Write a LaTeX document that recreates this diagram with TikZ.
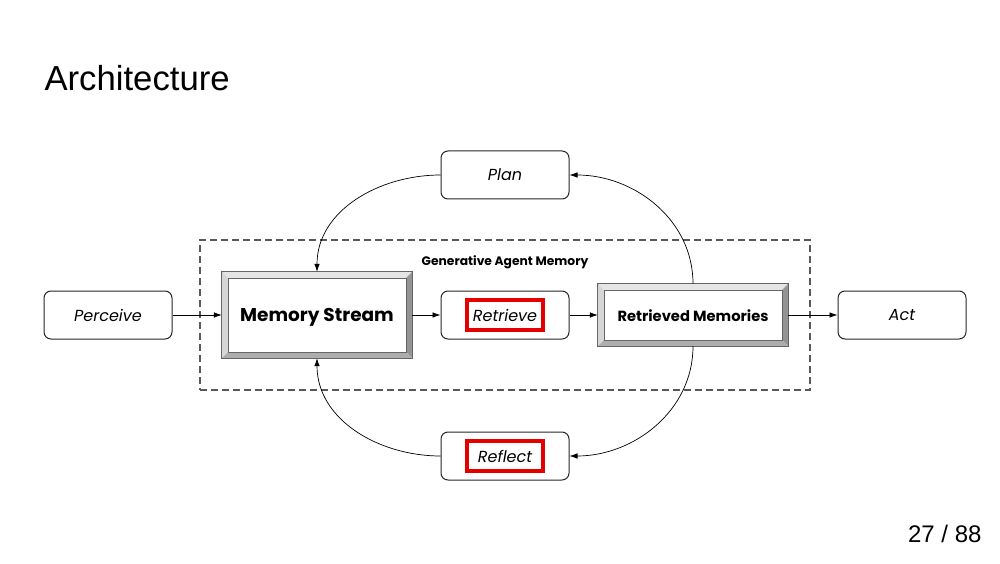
\documentclass[tikz,border=0pt]{standalone}
\usepackage{fontspec}
\setmainfont{Liberation Sans}
\newfontfamily\diagfont{Poppins}
\usepackage{xcolor}
\usetikzlibrary{arrows.meta}

\begin{document}
\begin{tikzpicture}[x=1pt,y=1pt]
  \tikzset{font={\diagfont\fontsize{16pt}{19pt}\selectfont},
    stepbox/.style={draw=black!85,line width=1pt,rounded corners=7pt,minimum width=128pt,
      minimum height=48pt,inner sep=0pt,font={\diagfont\itshape\fontsize{16pt}{19pt}\selectfont}},
    bevelbox/.style={draw=black!60,fill=white,inner sep=0pt},
    hilite/.style={draw=red!90!black,line width=3.2pt,minimum width=76pt,
      minimum height=30pt,inner sep=0pt},
    link/.style={-{Latex[length=8pt,width=5.5pt]},line width=0.7pt}}
  \useasboundingbox (0,0) rectangle (1000,563);
  \node[anchor=base west,font={\rmfamily\fontsize{34.7pt}{40pt}\selectfont}] (title) at (41,472) {Architecture};
  \node[anchor=base east,font={\rmfamily\fontsize{24pt}{28pt}\selectfont}] (page) at (985,21) {27 / 88};
  % memory frame
  \node[draw=black!65,dashed,dash pattern=on 7pt off 4pt,line width=1.3pt,
    minimum width=610pt,minimum height=150pt] (mem) at (505,248) {};
  \node[font={\diagfont\bfseries\fontsize{12.3pt}{14pt}\selectfont}] (memlabel) at (505,301) {Generative Agent Memory};
  \node[stepbox] (perceive) at (108,248) {Perceive};
  \node[stepbox] (plan) at (505,388) {Plan};
  \node[stepbox] (retrieve) at (505,248) {};
  \node[hilite,font={\diagfont\itshape\fontsize{16pt}{19pt}\selectfont}] (retrievetxt) at (retrieve) {Retrieve};
  \node[stepbox] (reflect) at (505,107) {};
  \node[hilite,font={\diagfont\itshape\fontsize{16pt}{19pt}\selectfont}] (reflecttxt) at (reflect) {Reflect};
  \node[stepbox] (act) at (902,248) {Act};
  \node[bevelbox,minimum width=190pt,minimum height=86pt] (ms) at (317,248) {};
  \node[bevelbox,minimum width=190pt,minimum height=62pt] (rm) at (693,248) {};
  % bevel edges
  \foreach \b in {ms,rm}{
    \fill[black!10] (\b.north west)--(\b.north east)--([shift={(-6,-6)}]\b.north east)--([shift={(6,-6)}]\b.north west)--cycle;
    \fill[black!16] (\b.north west)--(\b.south west)--([shift={(6,6)}]\b.south west)--([shift={(6,-6)}]\b.north west)--cycle;
    \fill[black!42] (\b.north east)--(\b.south east)--([shift={(-6,6)}]\b.south east)--([shift={(-6,-6)}]\b.north east)--cycle;
    \fill[black!32] (\b.south west)--(\b.south east)--([shift={(-6,6)}]\b.south east)--([shift={(6,6)}]\b.south west)--cycle;
    \draw[black!60,line width=0.8pt] (\b.south west) rectangle (\b.north east);
    \draw[black!60,line width=0.6pt] ([shift={(6,6)}]\b.south west) rectangle ([shift={(-6,-6)}]\b.north east);
  }
  \node[font={\diagfont\bfseries\fontsize{18.5pt}{22pt}\selectfont},yshift=-2pt] at (ms) {Memory Stream};
  \node[font={\diagfont\bfseries\fontsize{14.7pt}{17pt}\selectfont},yshift=-1pt] at (rm) {Retrieved Memories};
  % connectors
  \draw[link] (perceive.east) -- (ms.west);
  \draw[link] (ms.east) -- (retrieve.west);
  \draw[link] (retrieve.east) -- (rm.west);
  \draw[link] (rm.east) -- (act.west);
  \draw[link] (plan.west) to[out=180,in=90] (ms.north);
  \draw[link] (rm.north) to[out=90,in=0] (plan.east);
  \draw[link] (rm.south) to[out=-90,in=0] (reflect.east);
  \draw[link] (reflect.west) to[out=180,in=-90] (ms.south);
\end{tikzpicture}
\end{document}
